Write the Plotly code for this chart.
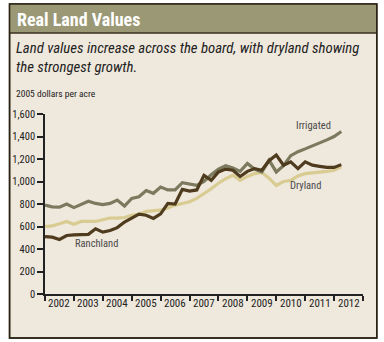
import plotly.graph_objects as go

# ---- data (quarterly, 2002Q1 .. 2012Q2), 2005 dollars per acre ----
quarters = [2002 + q / 4 for q in range(42)]

irrigated = [790, 775, 772, 800, 768, 795, 825, 805, 795, 805,
             835, 782, 850, 865, 920, 895, 950, 925, 925, 990,
             975, 965, 1000, 1060, 1110, 1140, 1120, 1090, 1160, 1110,
             1085, 1190, 1085, 1140, 1230, 1265, 1290, 1315, 1340, 1370,
             1400, 1445]

ranchland = [510, 505, 485, 520, 525, 525, 530, 580, 550, 565,
             590, 640, 675, 710, 700, 672, 712, 805, 800, 930,
             915, 925, 1055, 1010, 1085, 1110, 1100, 1045, 1090, 1115,
             1100, 1185, 1235, 1145, 1175, 1115, 1175, 1145, 1135, 1125,
             1125, 1150]

dryland = [600, 605, 625, 645, 620, 645, 645, 645, 660, 675,
           675, 680, 700, 710, 735, 740, 745, 765, 790, 805,
           820, 850, 890, 935, 985, 1025, 1055, 1010, 1045, 1070,
           1080, 1030, 965, 1000, 1010, 1050, 1070, 1075, 1085, 1090,
           1100, 1130]

years = list(range(2002, 2013))
ytick_vals = [0, 200, 400, 600, 800, 1000, 1200, 1400, 1600]

title = "Real Land Values"
subtitle = "Land values increase across the board, with dryland showing<br>the strongest growth."
unit = "2005 dollars per acre"

C_IRR = "#7b7a5f"
C_RANCH = "#4f3b1d"
C_DRY = "#d8cc92"
BG = "#efe8dc"
NARROW = "Liberation Sans Narrow, Arial Narrow, Roboto Condensed, sans-serif"

fig = go.Figure()
fig.add_trace(go.Scatter(x=quarters, y=dryland, mode="lines",
                         line=dict(color=C_DRY, width=3.2), name="Dryland"))
fig.add_trace(go.Scatter(x=quarters, y=irrigated, mode="lines",
                         line=dict(color=C_IRR, width=3.2), name="Irrigated"))
fig.add_trace(go.Scatter(x=quarters, y=ranchland, mode="lines",
                         line=dict(color=C_RANCH, width=3.2), name="Ranchland"))

# pixel -> paper helpers (plot area: x 40..363, y 114..294)
L, R, T, B = 40, 363, 114, 294
def px(x):
    return (x - L) / (R - L)
def py(y):
    return (B - y) / (B - T)

shapes = [
    dict(type="rect", xref="paper", yref="paper", x0=px(4), x1=px(377),
         y0=py(338), y1=py(4), fillcolor=BG,
         line=dict(color="#2b2416", width=1.5), layer="below"),
    dict(type="rect", xref="paper", yref="paper", x0=px(4), x1=px(377),
         y0=py(33), y1=py(4), fillcolor="#9b9876",
         line=dict(width=0), layer="below"),
    dict(type="line", xref="paper", yref="paper", x0=px(4), x1=px(377),
         y0=py(33), y1=py(33), line=dict(color="#3a3020", width=1.5),
         layer="below"),
    dict(type="rect", xref="paper", yref="paper", x0=px(4), x1=px(377),
         y0=py(338), y1=py(4), fillcolor="rgba(0,0,0,0)",
         line=dict(color="#2b2416", width=1.5), layer="below"),
]

annotations = [
    dict(text="<b>" + title + "</b>", xref="paper", yref="paper",
         x=px(10), y=py(19), xanchor="left", yanchor="middle", showarrow=False,
         font=dict(family=NARROW, size=18, color="white")),
    dict(text="<i>" + subtitle + "</i>", xref="paper", yref="paper",
         x=px(9), y=py(57), xanchor="left", yanchor="middle", showarrow=False,
         align="left", font=dict(family=NARROW, size=14.8, color="#222222")),
    dict(text=unit, xref="paper", yref="paper",
         x=px(9), y=py(93), xanchor="left", yanchor="middle", showarrow=False,
         font=dict(family=NARROW, size=9.5, color="#222222")),
    dict(text="Irrigated", xref="paper", yref="paper",
         x=px(313), y=py(125), xanchor="center", yanchor="middle", showarrow=False,
         font=dict(family=NARROW, size=10.5, color="#4a4a4a")),
    dict(text="Dryland", xref="paper", yref="paper",
         x=px(305), y=py(185), xanchor="center", yanchor="middle", showarrow=False,
         font=dict(family=NARROW, size=10.5, color="#4a4a4a")),
    dict(text="Ranchland", xref="paper", yref="paper",
         x=px(92), y=py(243), xanchor="center", yanchor="middle", showarrow=False,
         font=dict(family=NARROW, size=10.5, color="#4a4a4a")),
]
for yr in years:
    annotations.append(dict(text=str(yr), xref="x", yref="paper",
                            x=yr + 0.5, y=py(303), xanchor="center",
                            yanchor="middle", showarrow=False,
                            font=dict(family=NARROW, size=11, color="#222222")))

fig.update_layout(
    width=384, height=342,
    margin=dict(l=L, r=384 - R, t=T, b=342 - B, pad=0),
    paper_bgcolor="white", plot_bgcolor="rgba(0,0,0,0)",
    showlegend=False,
    shapes=shapes, annotations=annotations,
    xaxis=dict(range=[2002, 2013], tickvals=years + [2013],
               ticktext=[""] * (len(years) + 1), ticks="outside", ticklen=5,
               tickwidth=1.5, tickcolor="#222222", showline=True,
               linecolor="#222222", linewidth=1.5, showgrid=False,
               zeroline=False, fixedrange=True),
    yaxis=dict(range=[0, 1600], tickvals=ytick_vals, tickformat=",",
               ticks="outside", ticklen=6, tickwidth=1.5, tickcolor="#222222",
               showline=True, linecolor="#222222", linewidth=1.5,
               showgrid=False, zeroline=False, fixedrange=True,
               tickfont=dict(family=NARROW, size=10.5, color="#222222")),
)

fig.write_html("out.html", config={"displayModeBar": False})
